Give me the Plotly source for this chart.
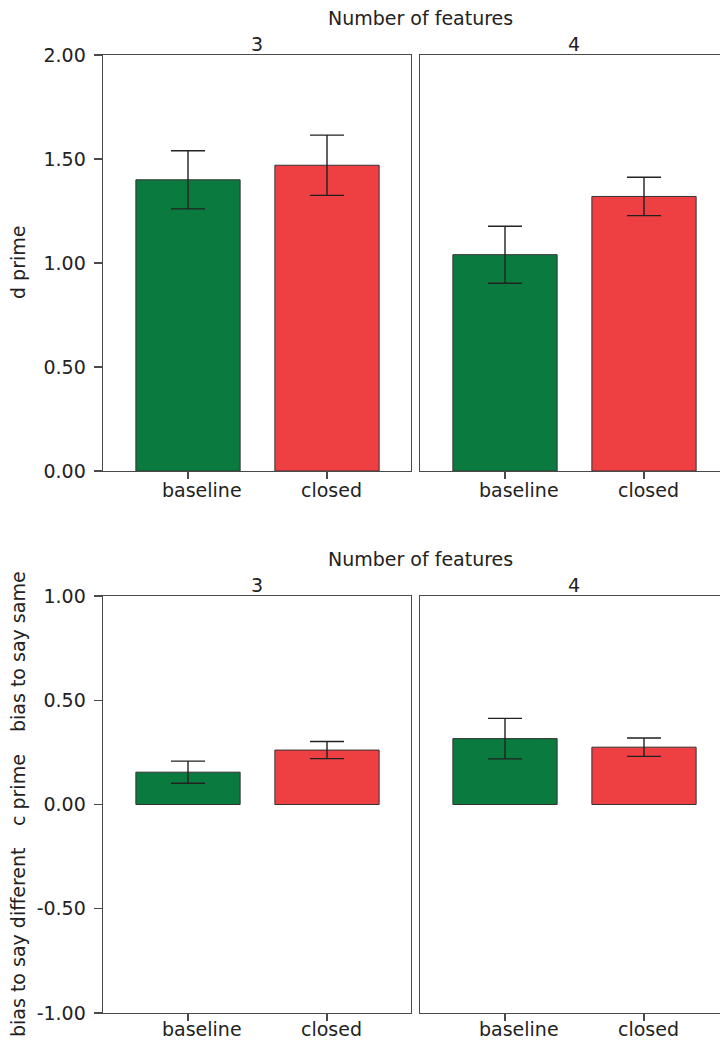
import plotly.graph_objects as go

W, H = 720, 1041

categories = ["baseline", "closed"]
features = ["3", "4"]

# d prime (top panel), per number of features
dprime = {"3": [1.40, 1.47], "4": [1.04, 1.32]}
dprime_err = {"3": [0.14, 0.145], "4": [0.137, 0.092]}

# c prime (bottom panel)
cprime = {"3": [0.155, 0.261], "4": [0.316, 0.275]}
cprime_err = {"3": [0.053, 0.041], "4": [0.097, 0.044]}

top_ticks = [0.0, 0.5, 1.0, 1.5, 2.0]
bottom_ticks = [-1.0, -0.5, 0.0, 0.5, 1.0]

colors = ["#0b7a3e", "#ee3f42"]
FONT = "DejaVu Sans"
FS = 19
TXT = "#222222"
AX = "#4a4a4a"

def px(x):
    return x / W

def py(y):
    return (H - y) / H

fig = go.Figure()

# panel domains (pixels)
xdom = {"3": (103, 411), "4": (420, 720)}
ydom = {"top": (55, 471), "bottom": (596, 1013)}
label_gap = {"top": 19, "bottom": 16}
unit = 139.0  # pixels per category step
first_center_off = 85.0

axis_ids = {("top", "3"): 1, ("top", "4"): 2, ("bottom", "3"): 3, ("bottom", "4"): 4}

annotations = []
def ann(text, x, y, angle=0):
    annotations.append(dict(text=text, x=px(x), y=py(y), xref="paper", yref="paper",
                            showarrow=False, textangle=angle, xanchor="center", yanchor="middle",
                            font=dict(family=FONT, size=FS, color=TXT)))

for (row, f), n in axis_ids.items():
    xa = "x" if n == 1 else f"x{n}"
    ya = "y" if n == 1 else f"y{n}"
    vals = dprime[f] if row == "top" else cprime[f]
    errs = dprime_err[f] if row == "top" else cprime_err[f]
    fig.add_trace(go.Bar(
        x=[0, 1], y=vals, width=0.75,
        marker=dict(color=colors, line=dict(color="#333333", width=1)),
        error_y=dict(type="data", array=errs, symmetric=True,
                     color="#222222", thickness=1.4, width=17),
        xaxis=xa, yaxis=ya, showlegend=False, hoverinfo="skip",
    ))
    x0, x1 = xdom[f]
    y0, y1 = ydom[row]
    rmin = -first_center_off / unit
    rmax = rmin + (x1 - x0) / unit
    xkey = "xaxis" if n == 1 else f"xaxis{n}"
    ykey = "yaxis" if n == 1 else f"yaxis{n}"
    fig.layout[xkey] = dict(
        domain=[px(x0), px(x1)], range=[rmin, rmax], anchor=ya,
        tickmode="array", tickvals=[0, 1], ticktext=categories,
        showticklabels=False,
        ticks="outside", ticklen=7, tickwidth=1.4, tickcolor=AX,
        showline=True, linecolor=AX, linewidth=1.4, mirror=True,
        showgrid=False, zeroline=False, automargin=False, fixedrange=True,
    )
    # category labels: left-aligned slightly left of each tick, as in the reference
    for i, c in enumerate(categories):
        annotations.append(dict(text=c, x=i, xref=xa, y=py(y1 + label_gap[row]), yref="paper",
                                xshift=-28, xanchor="left", yanchor="middle", showarrow=False,
                                font=dict(family=FONT, size=FS, color=TXT)))
    tv = top_ticks if row == "top" else bottom_ticks
    left = (f == "3")
    fig.layout[ykey] = dict(
        domain=[py(y1), py(y0)], range=[tv[0], tv[-1]], anchor=xa,
        tickmode="array", tickvals=tv if left else [],
        ticktext=[f"{v:.2f}" for v in tv] if left else [],
        showticklabels=left,
        ticks="outside" if left else "", ticklen=8, tickwidth=1.4, tickcolor=AX,
        showline=True, linecolor=AX, linewidth=1.4, mirror=left,
        showgrid=False, zeroline=False, automargin=False,
        ticklabelstandoff=4, fixedrange=True,
        tickfont=dict(family=FONT, size=FS, color=TXT),
    )

for row, (y0, _) in ydom.items():
    ann("Number of features", 420, y0 - 37)
    for f in features:
        x0, x1 = xdom[f]
        if f == "4":
            x1 = x0 + 308
        ann(f, (x0 + x1) / 2, y0 - 11)

ann("d prime", 18, 263, -90)
ann("bias to say same", 18, 652, -90)
ann("c prime", 18, 790, -90)
ann("bias to say different", 18, 942, -90)

fig.update_layout(
    width=W, height=H, margin=dict(l=0, r=0, t=0, b=0, autoexpand=False),
    paper_bgcolor="white", plot_bgcolor="white",
    annotations=annotations, bargap=0,
    font=dict(family=FONT, size=FS, color=TXT),
)

fig.write_html("out.html", config={"displayModeBar": False, "staticPlot": True},
               post_script="document.body.style.margin='0px';document.body.style.overflow='hidden';")
